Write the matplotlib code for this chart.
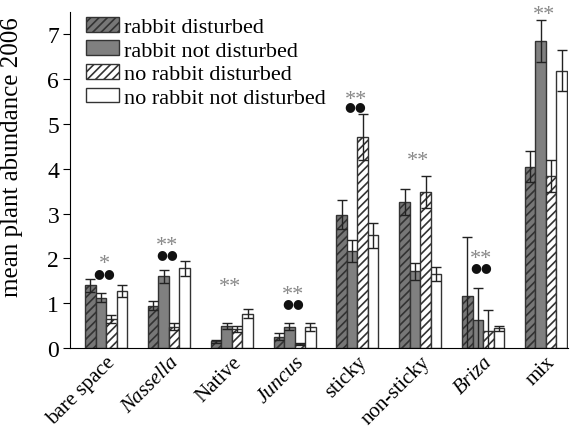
import numpy as np
import matplotlib.pyplot as plt

plt.rcParams['font.family'] = ['Liberation Serif', 'DejaVu Serif']
plt.rcParams['hatch.linewidth'] = 1.2

# plant classes and treatment means (+/- s.e.)
categories = ["bare space", "Nassella", "Native", "Juncus", "sticky",
              "non-sticky", "Briza", "mix"]
italic_cats = {"Nassella", "Juncus", "Briza"}

rabbit_dist = [1.40, 0.95, 0.15, 0.25, 2.98, 3.26, 1.17, 4.05]
rabbit_dist_err = [0.15, 0.10, 0.03, 0.08, 0.32, 0.28, 1.30, 0.34]
rabbit_nodist = [1.12, 1.60, 0.50, 0.48, 2.17, 1.71, 0.63, 6.86]
rabbit_nodist_err = [0.10, 0.15, 0.07, 0.08, 0.24, 0.18, 0.70, 0.47]
norabbit_dist = [0.65, 0.48, 0.42, 0.10, 4.71, 3.48, 0.39, 3.84]
norabbit_dist_err = [0.08, 0.08, 0.07, 0.02, 0.52, 0.36, 0.46, 0.35]
norabbit_nodist = [1.27, 1.78, 0.77, 0.47, 2.52, 1.65, 0.44, 6.19]
norabbit_nodist_err = [0.13, 0.17, 0.10, 0.08, 0.28, 0.16, 0.06, 0.45]

# significance marks: stars and rabbit-effect dots per class
stars = ["*", "**", "**", "**", "**", "**", "**", "**"]
dots = [True, True, False, True, True, False, True, False]
star_y = [1.94, 2.34, 1.43, 1.25, 5.61, 4.25, 2.05, 7.50]
dot_y = [1.69, 2.12, None, 1.02, 5.41, None, 1.83, None]

series = [
    ("rabbit disturbed", rabbit_dist, rabbit_dist_err, "#777777", "////"),
    ("rabbit not disturbed", rabbit_nodist, rabbit_nodist_err, "#808080", None),
    ("no rabbit disturbed", norabbit_dist, norabbit_dist_err, "white", "////"),
    ("no rabbit not disturbed", norabbit_nodist, norabbit_nodist_err, "white", None),
]

fig = plt.figure(figsize=(5.76, 4.31), dpi=100)
ax = fig.add_axes([0.122, 0.19, 0.864, 0.78])

x = np.arange(len(categories))
w = 0.167
for k, (name, vals, errs, col, hat) in enumerate(series):
    ax.bar(x + (k - 1.5) * w, vals, w, yerr=errs, color=col, hatch=hat,
           edgecolor="#333333", linewidth=1.0, label=name,
           error_kw=dict(ecolor="#222222", elinewidth=1.0, capsize=3.5, capthick=1.0))

for i in range(len(categories)):
    ax.text(x[i] - 0.03, star_y[i] - 0.06, stars[i], ha="center", va="center",
            fontsize=16, color="#888888")
    if dots[i]:
        ax.text(x[i] - 0.03, dot_y[i], "\u25cf\u25cf", ha="center",
                va="center", fontsize=9, color="#111111",
                family=['DejaVu Sans'])

ax.set_xlim(-0.57, 7.35)
ax.set_ylim(0, 7.5)
ax.set_yticks(range(8))
ax.set_xticks(x)
ax.set_xticklabels(categories, rotation=45, ha="right", rotation_mode="anchor")
for lab in ax.get_xticklabels():
    if lab.get_text() in italic_cats:
        lab.set_style("italic")
ax.tick_params(axis="y", labelsize=17, direction="out", length=5, pad=3)
ax.tick_params(axis="x", labelsize=15, length=0, pad=3)
ax.set_ylabel("mean plant abundance 2006", fontsize=18)
ax.yaxis.set_label_coords(-0.095, 0.57)
ax.spines["top"].set_visible(False)
ax.spines["right"].set_visible(False)

ax.legend(loc="upper left", bbox_to_anchor=(0.005, 1.025), frameon=False,
          fontsize=16, handlelength=1.5, handleheight=0.65,
          handletextpad=0.2, labelspacing=0.15, borderaxespad=0.2)

fig.savefig("out.png", dpi=100)
